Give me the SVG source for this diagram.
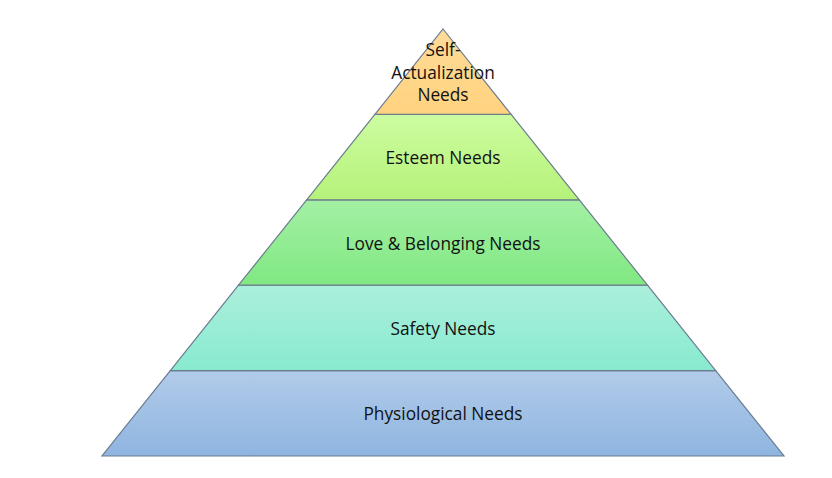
<svg xmlns="http://www.w3.org/2000/svg" width="832" height="478" viewBox="0 0 832 478">
<style>
.lay{stroke:#6b7c8f;stroke-width:1.2;stroke-linejoin:miter}
.t{font-family:"Open Sans","Liberation Sans",sans-serif;font-size:17.3px;fill:#111;text-anchor:middle;dominant-baseline:central}
</style>
<defs>
<linearGradient id="g1" x1="0" y1="0" x2="0" y2="1"><stop offset="0" stop-color="#ffdc9a"/><stop offset="1" stop-color="#ffd27e"/></linearGradient>
<linearGradient id="g2" x1="0" y1="0" x2="0" y2="1"><stop offset="0" stop-color="#cdfca0"/><stop offset="1" stop-color="#b5f27a"/></linearGradient>
<linearGradient id="g3" x1="0" y1="0" x2="0" y2="1"><stop offset="0" stop-color="#a4f0a4"/><stop offset="1" stop-color="#80e882"/></linearGradient>
<linearGradient id="g4" x1="0" y1="0" x2="0" y2="1"><stop offset="0" stop-color="#abefdc"/><stop offset="1" stop-color="#88ead0"/></linearGradient>
<linearGradient id="g5" x1="0" y1="0" x2="0" y2="1"><stop offset="0" stop-color="#b2cbea"/><stop offset="1" stop-color="#8fb5e0"/></linearGradient>
</defs>
<rect width="832" height="478" fill="#fff"/>
<g id="physiological">
<polygon class="lay" fill="url(#g5)" points="170.3,370.6 715.7,370.6 784,456 102,456"/>
<text class="t" x="443" y="413">Physiological Needs</text>
</g>
<g id="safety">
<polygon class="lay" fill="url(#g4)" points="238.5,285.2 647.5,285.2 715.7,370.6 170.3,370.6"/>
<text class="t" x="443" y="328">Safety Needs</text>
</g>
<g id="love">
<polygon class="lay" fill="url(#g3)" points="306.7,199.8 579.3,199.8 647.5,285.2 238.5,285.2"/>
<text class="t" x="443" y="243">Love &amp; Belonging Needs</text>
</g>
<g id="esteem">
<polygon class="lay" fill="url(#g2)" points="374.9,114.4 511.1,114.4 579.3,199.8 306.7,199.8"/>
<text class="t" x="443" y="157">Esteem Needs</text>
</g>
<g id="self-actualization">
<polygon class="lay" fill="url(#g1)" points="443,29 511.1,114.4 374.9,114.4"/>
<text class="t" x="443" y="49">Self-</text>
<text class="t" x="443" y="72">Actualization</text>
<text class="t" x="443" y="94">Needs</text>
</g>
<g id="connectors"/>
</svg>
